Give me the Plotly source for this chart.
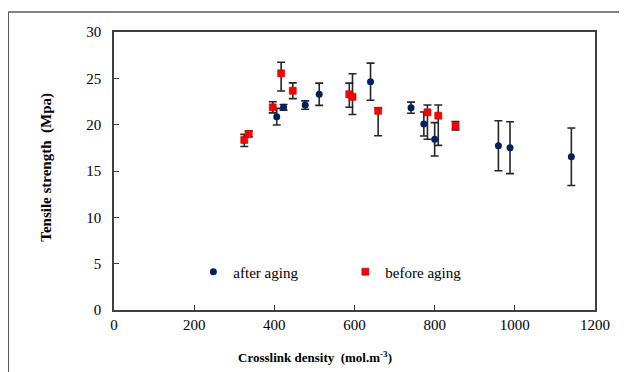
import plotly.graph_objects as go

# after aging
after_x = [406, 423, 477, 512, 640, 741, 773, 800, 959, 988, 1141]
after_y = [20.86, 21.87, 22.12, 23.28, 24.64, 21.83, 20.07, 18.42, 17.73, 17.52, 16.54]
after_err = [0.9, 0.3, 0.45, 1.2, 2.0, 0.6, 1.3, 1.8, 2.7, 2.8, 3.1]

# before aging
before_x = [325, 336, 396, 417, 446, 587, 595, 659, 782, 809, 852]
before_y = [18.35, 19.0, 21.87, 25.54, 23.66, 23.28, 23.0, 21.5, 21.33, 20.97, 19.89]
before_err_plus = [0.6, 0.3, 0.6, 1.2, 0.85, 1.2, 2.5, 0.3, 0.8, 1.15, 0.45]
before_err_minus = [0.7, 0.3, 0.6, 1.9, 0.85, 1.4, 1.9, 2.7, 2.9, 3.2, 0.45]

x_ticks = [0, 200, 400, 600, 800, 1000, 1200]
y_ticks = [0, 5, 10, 15, 20, 25, 30]

serif = "Liberation Serif, Times New Roman, serif"
err_color = "#262626"

fig = go.Figure()
fig.add_trace(go.Scatter(
    x=after_x, y=after_y, mode="markers", name="after aging",
    marker=dict(symbol="circle", size=7, color="#002060"),
    error_y=dict(type="data", array=after_err, visible=True,
                 color=err_color, thickness=1.6, width=4),
))
fig.add_trace(go.Scatter(
    x=before_x, y=before_y, mode="markers", name="before aging",
    marker=dict(symbol="square", size=7, color="#ff0000",
                line=dict(color="#c00000", width=0.6)),
    error_y=dict(type="data", symmetric=False, array=before_err_plus,
                 arrayminus=before_err_minus, visible=True,
                 color=err_color, thickness=1.6, width=4),
))

axis_common = dict(
    showline=True, linecolor="#404040", linewidth=1.5, mirror=True,
    ticks="inside", ticklen=5, tickwidth=1.2, tickcolor="#404040",
    showgrid=False, zeroline=False,
    tickfont=dict(family=serif, size=15, color="#000000"),
)

fig.update_xaxes(range=[0, 1200], tickvals=x_ticks, **axis_common)
fig.update_yaxes(range=[0, 30], tickvals=y_ticks, ticklabelstandoff=8, **axis_common)

frame = dict(color="#595959", width=1.6)
left_x = -0.2199

# page body adds an 8px offset; figure is sized so the plot lands where the reference has it
fig.update_layout(
    width=619, height=364,
    margin=dict(l=106, r=32, t=24, b=62),
    paper_bgcolor="white", plot_bgcolor="white",
    font=dict(family=serif, color="#000000"),
    showlegend=True,
    legend=dict(
        orientation="h", x=0.165, y=0.137, xanchor="left", yanchor="middle",
        bgcolor="rgba(0,0,0,0)", font=dict(family=serif, size=15),
        entrywidth=107, entrywidthmode="pixels", itemwidth=30,
    ),
    annotations=[
        dict(text="<b>Crosslink density  (mol.m<sup>-3</sup>)</b>", xref="paper", yref="paper",
             x=0.4186, y=-0.169, xanchor="center", yanchor="middle", showarrow=False,
             font=dict(family=serif, size=13, color="#000000")),
        dict(text="<b>Tensile strength  (Mpa)</b>", xref="paper", yref="paper",
             x=-0.1395, y=0.515, xanchor="center", yanchor="middle", showarrow=False,
             font=dict(family=serif, size=15, color="#000000"), textangle=-90),
    ],
    shapes=[
        dict(type="line", xref="paper", yref="paper", x0=left_x, x1=left_x,
             y0=-0.3, y1=1.0719, line=frame, layer="above"),
        dict(type="line", xref="paper", yref="paper", x0=left_x, x1=1.0719,
             y0=1.0719, y1=1.0719, line=frame, layer="above"),
        dict(type="line", xref="paper", yref="paper", x0=1.0719, x1=1.0719,
             y0=-0.3, y1=1.0719, line=frame, layer="above"),
    ],
)

fig.write_html("out.html")
